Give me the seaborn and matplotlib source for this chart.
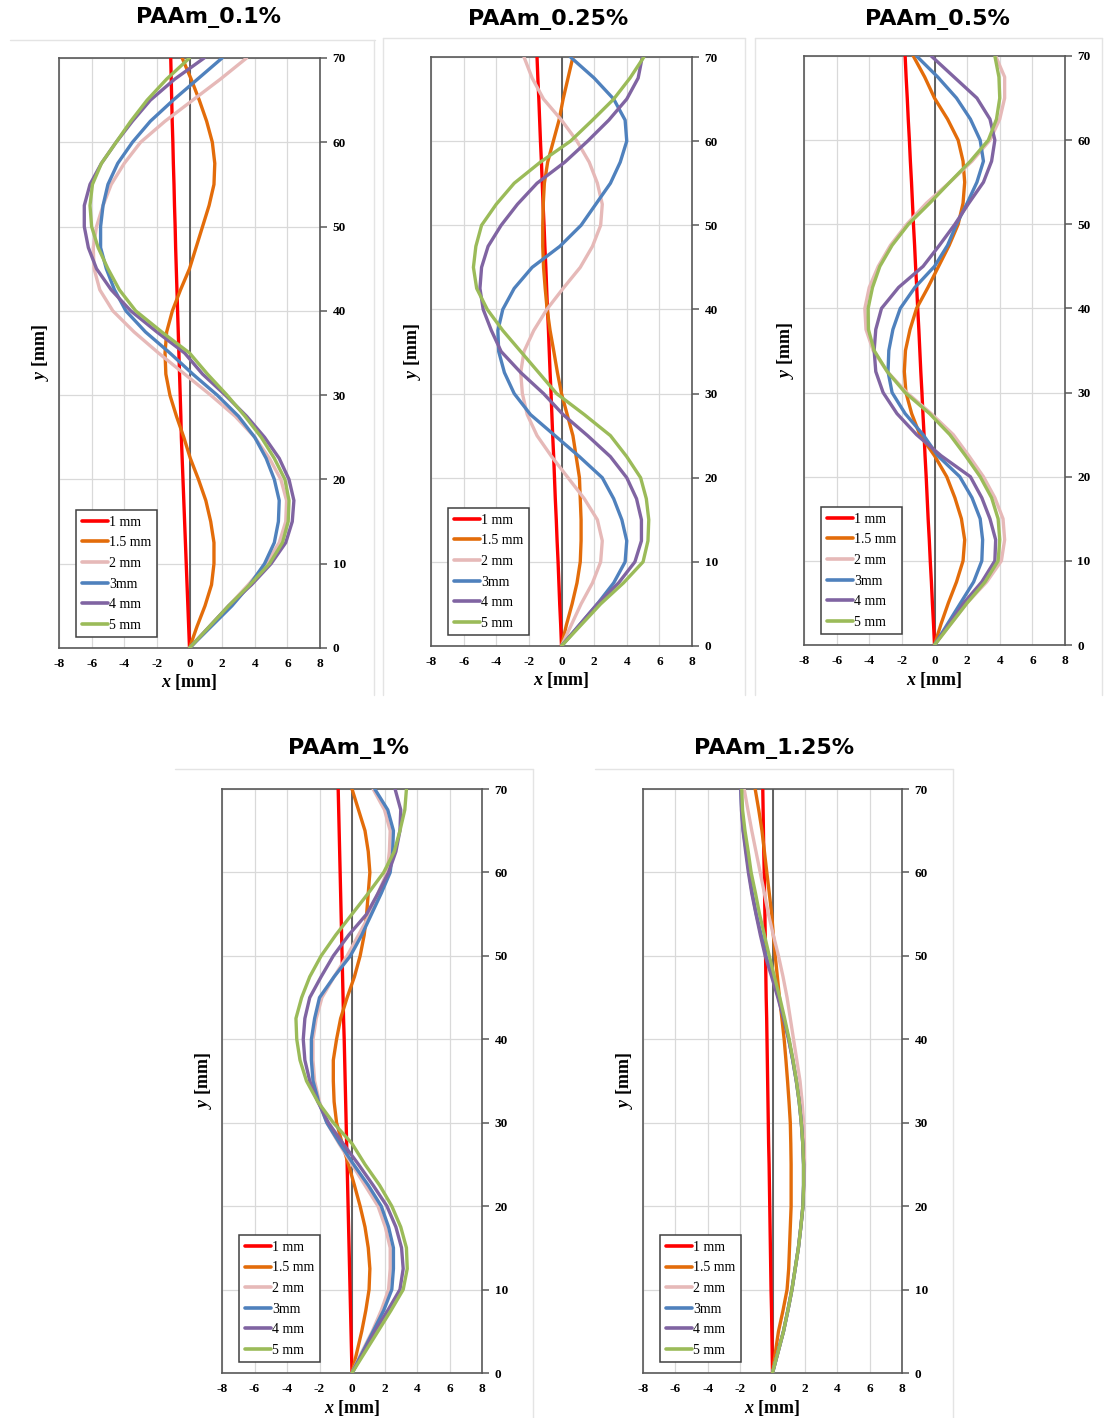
import pandas as pd
import seaborn as sns
import matplotlib.pyplot as plt
from matplotlib.lines import Line2D

# common y positions (mm) at which the curves were read
Y = [0, 2.5, 5, 7.5, 10, 12.5, 15, 17.5, 20, 22.5, 25, 27.5, 30, 32.5, 35,
     37.5, 40, 42.5, 45, 47.5, 50, 52.5, 55, 57.5, 60, 62.5, 65, 67.5, 70]

labels = ['1 mm', '1.5 mm', '2 mm', '3mm', '4 mm', '5 mm']
colors = ['#FF0000', '#E36C0A', '#E6B9B8', '#4F81BD', '#8064A2', '#9BBB59']
titles = ['PAAm_0.1%', 'PAAm_0.25%', 'PAAm_0.5%', 'PAAm_1%', 'PAAm_1.25%']

# ---- PAAm_0.1%
a_1 = [0, -0.05, -0.1, -0.15, -0.2, -0.25, -0.3, -0.35, -0.4, -0.45, -0.5, -0.53, -0.57, -0.61, -0.65,
       -0.69, -0.73, -0.77, -0.81, -0.85, -0.88, -0.92, -0.95, -0.99, -1.02, -1.06, -1.09, -1.12, -1.15]
a_15 = [0, 0.45, 0.95, 1.35, 1.5, 1.5, 1.3, 1.0, 0.55, 0.05, -0.35, -0.8, -1.2, -1.45, -1.5,
        -1.4, -1.05, -0.55, 0, 0.4, 0.8, 1.2, 1.5, 1.55, 1.4, 1.05, 0.6, 0.1, -0.45]
a_2 = [0, 1.2, 2.4, 3.6, 4.7, 5.5, 5.9, 5.95, 5.6, 4.9, 4.0, 2.8, 1.3, -0.3, -1.9,
       -3.4, -4.7, -5.5, -5.85, -5.9, -5.7, -5.3, -4.8, -4.0, -3.0, -1.5, 0.2, 1.9, 3.5]
a_3 = [0, 1.3, 2.6, 3.7, 4.6, 5.2, 5.45, 5.5, 5.2, 4.7, 4.0, 3.0, 1.7, 0.2, -1.2,
       -2.7, -3.9, -4.6, -5.1, -5.45, -5.45, -5.3, -5.0, -4.4, -3.5, -2.4, -1.0, 0.5, 2.0]
a_4 = [0, 1.2, 2.4, 3.8, 5.0, 5.9, 6.3, 6.4, 6.1, 5.5, 4.6, 3.5, 2.2, 0.8, -0.3,
       -2.0, -3.6, -4.8, -5.7, -6.2, -6.45, -6.45, -6.1, -5.4, -4.5, -3.5, -2.4, -0.9, 0.9]
a_5 = [0, 1.2, 2.4, 3.7, 4.9, 5.7, 6.05, 6.1, 5.85, 5.2, 4.4, 3.4, 2.3, 1.1, 0,
       -1.7, -3.3, -4.3, -5.0, -5.6, -6.0, -6.1, -5.95, -5.4, -4.5, -3.6, -2.6, -1.4, 0]

# ---- PAAm_0.25%
b_1 = [0, -0.05, -0.11, -0.16, -0.21, -0.27, -0.32, -0.38, -0.43, -0.48, -0.54, -0.59, -0.64, -0.7, -0.75,
       -0.8, -0.86, -0.91, -0.96, -1.02, -1.07, -1.13, -1.18, -1.23, -1.29, -1.34, -1.39, -1.45, -1.5]
b_15 = [0, 0.3, 0.65, 0.95, 1.15, 1.2, 1.2, 1.15, 1.1, 0.9, 0.7, 0.35, 0, -0.25, -0.47,
        -0.7, -0.88, -1.0, -1.1, -1.15, -1.15, -1.12, -1.05, -0.85, -0.5, -0.15, 0.1, 0.4, 0.7]
b_2 = [0, 0.6, 1.2, 1.9, 2.4, 2.5, 2.2, 1.4, 0.4, -0.6, -1.5, -2.1, -2.4, -2.5, -2.3,
       -1.7, -0.9, 0.1, 1.15, 1.9, 2.4, 2.5, 2.2, 1.7, 0.95, 0, -1.1, -1.8, -2.3]
b_3 = [0, 1.1, 2.2, 3.2, 3.9, 4.0, 3.7, 3.2, 2.5, 1.1, -0.4, -1.9, -2.9, -3.5, -3.85,
       -3.9, -3.6, -2.9, -1.8, -0.1, 1.2, 2.1, 3.0, 3.6, 4.0, 3.9, 3.2, 2.0, 0.55]
b_4 = [0, 1.1, 2.2, 3.5, 4.5, 4.9, 4.9, 4.6, 4.0, 3.0, 1.6, 0.1, -1.1, -2.5, -3.7,
       -4.3, -4.8, -5.0, -4.9, -4.5, -3.7, -2.7, -1.5, 0.2, 1.6, 2.9, 4.0, 4.7, 4.95]
b_5 = [0, 1.2, 2.4, 3.8, 5.0, 5.3, 5.35, 5.2, 4.85, 4.0, 3.0, 1.4, -0.3, -1.4, -2.5,
       -3.6, -4.55, -5.2, -5.4, -5.25, -4.9, -4.0, -2.9, -1.3, 0.55, 1.9, 3.2, 4.2, 5.05]

# ---- PAAm_0.5%
c_1 = [0, -0.06, -0.13, -0.19, -0.26, -0.32, -0.39, -0.45, -0.51, -0.58, -0.64, -0.71, -0.77, -0.84, -0.9,
       -0.96, -1.03, -1.09, -1.16, -1.22, -1.29, -1.35, -1.41, -1.48, -1.54, -1.61, -1.67, -1.74, -1.8]
c_15 = [0, 0.4, 0.85, 1.35, 1.75, 1.85, 1.65, 1.25, 0.75, 0, -0.9, -1.4, -1.75, -1.85, -1.78,
        -1.5, -1.1, -0.4, 0.25, 0.9, 1.45, 1.75, 1.85, 1.75, 1.45, 0.8, 0, -0.6, -1.3]
c_2 = [0, 1.0, 2.0, 3.2, 4.1, 4.3, 4.2, 3.7, 3.0, 2.1, 1.15, -0.2, -1.7, -2.9, -3.76,
       -4.2, -4.27, -4.0, -3.45, -2.7, -1.7, -0.5, 0.94, 2.3, 3.4, 4.0, 4.3, 4.3, 3.75]
c_3 = [0, 0.8, 1.6, 2.4, 2.9, 2.95, 2.8, 2.3, 1.55, 0.2, -0.7, -1.8, -2.6, -2.85, -2.8,
       -2.55, -2.1, -1.2, 0, 0.8, 1.35, 2.0, 2.6, 3.0, 2.8, 2.2, 1.35, 0.2, -1.1]
c_4 = [0, 0.9, 1.8, 2.9, 3.7, 3.75, 3.4, 2.9, 2.2, 0.4, -1.1, -2.3, -3.15, -3.6, -3.7,
       -3.6, -3.25, -2.2, -0.7, 0.3, 1.25, 2.1, 3.0, 3.5, 3.7, 3.4, 2.6, 1.2, -0.2]
c_5 = [0, 1.0, 2.0, 3.1, 3.9, 4.0, 3.9, 3.5, 2.8, 1.9, 0.94, -0.3, -1.8, -2.9, -3.7,
       -4.05, -4.07, -3.8, -3.35, -2.6, -1.6, -0.3, 0.94, 2.2, 3.3, 3.8, 4.0, 3.95, 3.7]

# ---- PAAm_1%
d_1 = [0, -0.03, -0.06, -0.09, -0.12, -0.15, -0.18, -0.21, -0.24, -0.27, -0.3, -0.33, -0.36, -0.39, -0.42,
       -0.45, -0.48, -0.52, -0.55, -0.58, -0.61, -0.64, -0.67, -0.7, -0.73, -0.76, -0.79, -0.82, -0.85]
d_15 = [0, 0.3, 0.6, 0.85, 1.05, 1.1, 1.0, 0.8, 0.5, 0.15, -0.22, -0.6, -0.95, -1.1, -1.15,
        -1.15, -0.95, -0.7, -0.3, 0.15, 0.5, 0.75, 0.9, 1.0, 1.1, 1.0, 0.8, 0.4, 0]
d_2 = [0, 0.6, 1.25, 1.8, 2.25, 2.35, 2.35, 2.05, 1.6, 0.8, 0, -0.8, -1.55, -2.0, -2.3,
       -2.4, -2.4, -2.2, -1.85, -1.1, -0.3, 0.4, 1.1, 1.6, 2.15, 2.3, 2.35, 2.0, 1.3]
d_3 = [0, 0.65, 1.3, 1.95, 2.45, 2.55, 2.55, 2.25, 1.8, 1.0, 0.1, -0.75, -1.55, -2.05, -2.4,
       -2.5, -2.5, -2.3, -2.0, -1.1, -0.1, 0.6, 1.2, 1.8, 2.35, 2.5, 2.55, 2.2, 1.4]
d_4 = [0, 0.7, 1.4, 2.2, 2.95, 3.15, 3.05, 2.7, 2.15, 1.3, 0.4, -0.55, -1.45, -2.1, -2.6,
       -2.9, -3.0, -2.9, -2.6, -1.9, -1.15, -0.2, 0.9, 1.6, 2.25, 2.7, 2.95, 3.0, 2.65]
d_5 = [0, 0.8, 1.6, 2.4, 3.15, 3.4, 3.35, 3.0, 2.45, 1.7, 0.8, 0, -1.15, -2.1, -2.8,
       -3.2, -3.4, -3.45, -3.1, -2.6, -1.9, -1.0, 0, 1.0, 1.95, 2.6, 2.95, 3.25, 3.35]

# ---- PAAm_1.25%
e_1 = [0, -0.02, -0.04, -0.06, -0.09, -0.11, -0.13, -0.15, -0.17, -0.19, -0.21, -0.24, -0.26, -0.28, -0.3,
       -0.32, -0.34, -0.36, -0.39, -0.41, -0.43, -0.45, -0.47, -0.49, -0.51, -0.54, -0.56, -0.58, -0.6]
e_15 = [0, 0.18, 0.37, 0.65, 0.9, 1.0, 1.05, 1.1, 1.15, 1.15, 1.15, 1.13, 1.1, 1.02, 0.93,
        0.83, 0.72, 0.58, 0.43, 0.3, 0.17, 0.05, -0.05, -0.2, -0.35, -0.5, -0.65, -0.85, -1.07]
e_2 = [0, 0.34, 0.68, 0.95, 1.2, 1.4, 1.6, 1.75, 1.88, 1.95, 1.98, 1.97, 1.92, 1.83, 1.7,
       1.5, 1.3, 1.1, 0.9, 0.65, 0.37, 0.05, -0.25, -0.5, -0.76, -1.02, -1.28, -1.52, -1.75]
e_3 = [0, 0.34, 0.68, 0.95, 1.2, 1.4, 1.6, 1.75, 1.88, 1.92, 1.92, 1.87, 1.78, 1.65, 1.47,
       1.25, 1.0, 0.7, 0.37, 0.0, -0.4, -0.7, -1.0, -1.25, -1.45, -1.62, -1.8, -1.9, -1.96]
e_4 = [0, 0.34, 0.68, 0.95, 1.2, 1.4, 1.6, 1.75, 1.88, 1.92, 1.92, 1.87, 1.78, 1.65, 1.47,
       1.25, 1.0, 0.68, 0.33, -0.05, -0.45, -0.75, -1.02, -1.28, -1.49, -1.66, -1.82, -1.92, -1.96]
e_5 = [0, 0.34, 0.68, 0.95, 1.2, 1.4, 1.6, 1.75, 1.88, 1.92, 1.92, 1.87, 1.78, 1.65, 1.48,
       1.27, 1.03, 0.75, 0.45, 0.12, -0.2, -0.5, -0.8, -1.05, -1.32, -1.5, -1.7, -1.85, -1.9]

panels = [[a_1, a_15, a_2, a_3, a_4, a_5],
          [b_1, b_15, b_2, b_3, b_4, b_5],
          [c_1, c_15, c_2, c_3, c_4, c_5],
          [d_1, d_15, d_2, d_3, d_4, d_5],
          [e_1, e_15, e_2, e_3, e_4, e_5]]

W, H = 1107, 1418
# axes boxes in pixels: left, top, right, bottom
boxes = [(59, 58, 320, 648), (431, 57, 692, 646), (804, 56, 1065, 645),
         (222, 789, 482, 1373), (643, 789, 902, 1373)]
title_pos = [(208, 18), (548, 20), (937, 20), (349, 749), (774, 749)]

sns.set_style('white')
plt.rcParams['font.family'] = ['Liberation Serif', 'DejaVu Serif']
plt.rcParams['mathtext.fontset'] = 'custom'
plt.rcParams['mathtext.it'] = 'Liberation Serif:italic:bold'
plt.rcParams['mathtext.rm'] = 'Liberation Serif:bold'
plt.rcParams['axes.unicode_minus'] = False
plt.rcParams['text.color'] = 'black'
plt.rcParams['axes.labelcolor'] = 'black'
plt.rcParams['xtick.color'] = 'black'
plt.rcParams['ytick.color'] = 'black'

fig = plt.figure(figsize=(W / 100, H / 100), dpi=100)
fig.patch.set_facecolor('white')

# thin frame lines of the original screenshots
sep = '#e4e4e4'
for x0, x1, yy in [(10, 375, 40), (383, 745, 38), (755, 1102, 38), (175, 533, 769), (595, 953, 769)]:
    fig.add_artist(Line2D([x0 / W, x1 / W], [1 - yy / H, 1 - yy / H], color=sep, lw=1))
for xx, y0, y1 in [(374, 40, 695), (383, 38, 695), (745, 38, 695), (755, 38, 695), (1102, 38, 695),
                   (533, 769, 1418), (953, 769, 1418)]:
    fig.add_artist(Line2D([xx / W, xx / W], [1 - y0 / H, 1 - y1 / H], color=sep, lw=1))

for i, curves in enumerate(panels):
    l, t, r, b = boxes[i]
    ax = fig.add_axes([l / W, 1 - b / H, (r - l) / W, (b - t) / H])

    rows = []
    for lab, xs in zip(labels, curves):
        for yv, xv in zip(Y, xs):
            rows.append({'x': xv, 'y': yv, 'series': lab})
    df = pd.DataFrame(rows)

    ax.axvline(0, color='#555555', lw=1.3, zorder=1)
    sns.lineplot(data=df, x='x', y='y', hue='series', hue_order=labels,
                 palette=colors, sort=False, estimator=None, orient='y',
                 lw=2.4, ax=ax, legend=False, zorder=3)

    ax.set_xlim(-8, 8)
    ax.set_ylim(0, 70)
    ax.set_xticks(range(-8, 9, 2))
    ax.set_yticks(range(0, 71, 10))
    ax.grid(True, color='#d9d9d9', lw=0.9)
    ax.set_axisbelow(True)
    for s in ax.spines.values():
        s.set_color('#595959')
        s.set_linewidth(1.2)

    ax.yaxis.tick_right()
    ax.yaxis.set_label_position('left')
    ax.tick_params(axis='y', direction='out', length=5, width=1.1, color='#595959', pad=4,
                   labelsize=9.5)
    ax.tick_params(axis='x', length=0, pad=7, labelsize=9.5)
    for tl in ax.get_xticklabels() + ax.get_yticklabels():
        tl.set_fontweight('bold')

    ax.set_xlabel(r'$x$ [mm]', fontsize=13, fontweight='bold', labelpad=2)
    ax.set_ylabel(r'$y$ [mm]', fontsize=13, fontweight='bold', labelpad=6)

    handles = [Line2D([], [], color=c, lw=2.6) for c in colors]
    leg = ax.legend(handles, labels, loc='lower left', bbox_to_anchor=(0.067, 0.018),
                    fontsize=10, handlelength=1.9, handletextpad=0.05, labelspacing=0.55,
                    borderpad=0.4, borderaxespad=0, fancybox=False, framealpha=1)
    leg.get_frame().set_edgecolor('#404040')
    leg.get_frame().set_linewidth(1.1)

    tx, ty = title_pos[i]
    fig.text(tx / W, 1 - ty / H, titles[i], ha='center', va='center', color='black',
             fontsize=16, fontweight='bold', family=['DejaVu Sans'])

fig.savefig('out.png', dpi=100)
